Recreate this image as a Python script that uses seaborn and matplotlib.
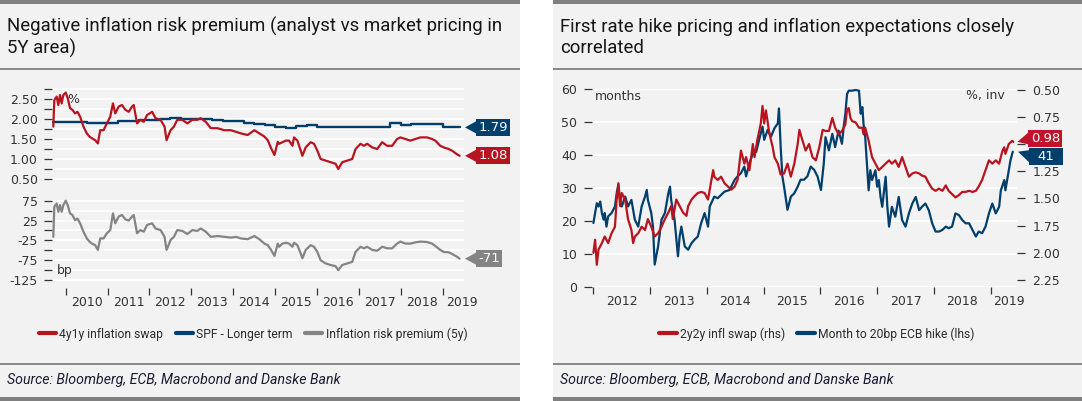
import matplotlib
matplotlib.use("Agg")
import matplotlib.pyplot as plt
import seaborn as sns
import pandas as pd
import numpy as np
from matplotlib.patches import Rectangle, Polygon
from matplotlib.lines import Line2D

# ---------------- data ----------------
# left panel: 4y1y inflation swap (%) and inflation risk premium (bp), same dates
left_dates = [
    2009.704, 2009.728, 2009.784, 2009.824, 2009.864, 2009.904, 2009.944, 2010.000, 2010.048, 2010.104,
    2010.160, 2010.224, 2010.280, 2010.344, 2010.424, 2010.504, 2010.568, 2010.624, 2010.704, 2010.768,
    2010.824, 2010.904, 2010.984, 2011.064, 2011.128, 2011.184, 2011.264, 2011.344, 2011.424, 2011.504,
    2011.584, 2011.624, 2011.704, 2011.784, 2011.864, 2011.944, 2012.064, 2012.144, 2012.264, 2012.360,
    2012.408, 2012.504, 2012.584, 2012.664, 2012.784, 2012.904, 2013.024, 2013.144, 2013.224, 2013.344,
    2013.464, 2013.624, 2013.784, 2013.944, 2014.064, 2014.184, 2014.344, 2014.504, 2014.624, 2014.744,
    2014.824, 2014.904, 2014.984, 2015.064,
    2015.095, 2015.175, 2015.254, 2015.333, 2015.413, 2015.452, 2015.532, 2015.611, 2015.651, 2015.730,
    2015.849, 2015.929, 2016.008, 2016.087, 2016.206, 2016.325, 2016.444, 2016.508, 2016.603, 2016.722,
    2016.841, 2016.921, 2017.040, 2017.119, 2017.198, 2017.317, 2017.437, 2017.556, 2017.675, 2017.794,
    2017.913, 2017.992, 2018.111, 2018.230, 2018.349, 2018.468, 2018.627, 2018.746, 2018.825, 2018.944,
    2019.024, 2019.143, 2019.222, 2019.341, 2019.405]
swap_4y1y = [
    1.81, 2.47, 2.56, 2.35, 2.60, 2.39, 2.60, 2.66, 2.52, 2.27,
    2.23, 2.14, 2.18, 2.06, 1.81, 1.64, 1.56, 1.52, 1.47, 1.39,
    1.72, 1.72, 1.89, 2.06, 2.39, 2.14, 2.31, 2.35, 2.23, 2.18,
    2.31, 2.35, 1.89, 1.98, 1.93, 2.10, 2.18, 2.02, 1.98, 1.81,
    1.47, 1.72, 1.81, 1.98, 1.98, 1.89, 1.98, 1.98, 2.02, 1.93,
    1.77, 1.77, 1.72, 1.72, 1.68, 1.64, 1.60, 1.72, 1.64, 1.56,
    1.47, 1.27, 1.10, 1.43,
    1.38, 1.42, 1.46, 1.46, 1.33, 1.54, 1.46, 1.21, 1.08, 1.29,
    1.42, 1.38, 1.21, 1.00, 0.96, 0.92, 0.88, 0.75, 0.92, 0.96,
    1.00, 1.25, 1.38, 1.33, 1.38, 1.29, 1.25, 1.42, 1.33, 1.33,
    1.50, 1.54, 1.50, 1.46, 1.50, 1.54, 1.54, 1.50, 1.46, 1.33,
    1.29, 1.25, 1.21, 1.12, 1.08]
risk_premium = [
    -16, 60, 68, 47, 64, 47, 64, 75, 64, 43,
    39, 26, 30, 18, -3, -20, -28, -33, -37, -49,
    -20, -20, -7, 1, 43, 18, 35, 39, 28, 25,
    35, 39, -7, 1, -3, 14, 18, 5, 1, -16,
    -49, -24, -16, 1, -1, -9, 1, -1, 5, -3,
    -16, -14, -16, -18, -16, -20, -22, -14, -22, -33,
    -37, -49, -64, -33,
    -41, -33, -31, -33, -41, -31, -37, -58, -70, -49,
    -37, -41, -54, -75, -83, -87, -90, -100, -87, -83,
    -79, -54, -41, -45, -41, -49, -51, -41, -45, -45,
    -33, -28, -33, -33, -30, -28, -29, -33, -39, -49,
    -54, -55, -59, -66, -71]

# SPF longer-term expectations (quarterly steps, %)
spf_dates = [2009.70, 2010.00, 2010.25, 2010.50, 2010.75, 2011.00, 2011.25, 2011.50, 2011.75, 2012.00,
             2012.25, 2012.50, 2012.75, 2013.00, 2013.25, 2013.50, 2013.75, 2014.00, 2014.25, 2014.50,
             2014.75, 2015.00, 2015.25, 2015.50, 2015.75, 2016.00, 2016.25, 2016.50, 2016.75, 2017.00,
             2017.25, 2017.50, 2017.75, 2018.00, 2018.25, 2018.50, 2018.75, 2019.00, 2019.25, 2019.405]
spf_values = [1.93, 1.93, 1.92, 1.91, 1.90, 1.90, 1.95, 1.96, 1.97, 1.98,
              2.00, 2.02, 2.01, 2.00, 1.99, 1.98, 1.96, 1.96, 1.91, 1.88,
              1.85, 1.80, 1.77, 1.83, 1.86, 1.80, 1.80, 1.81, 1.80, 1.80,
              1.81, 1.80, 1.89, 1.86, 1.88, 1.88, 1.87, 1.79, 1.79, 1.79]

# right panel: 2y2y inflation swap (%, inverted rhs)
swap2y2y_dates = [
    2012.00, 2012.03, 2012.06, 2012.09, 2012.15, 2012.20, 2012.26, 2012.32, 2012.38, 2012.41,
    2012.44, 2012.47, 2012.50, 2012.56, 2012.61, 2012.67, 2012.70, 2012.73, 2012.79, 2012.85,
    2012.91, 2012.96, 2013.02, 2013.08, 2013.14, 2013.20, 2013.26, 2013.32, 2013.37, 2013.40,
    2013.46, 2013.52, 2013.58, 2013.64, 2013.67, 2013.73, 2013.78, 2013.84, 2013.90, 2013.96,
    2014.02, 2014.05, 2014.08, 2014.11, 2014.13, 2014.19, 2014.25, 2014.31, 2014.37, 2014.43,
    2014.49, 2014.54, 2014.60, 2014.66, 2014.69, 2014.75, 2014.81, 2014.84, 2014.89, 2014.95,
    2014.98, 2015.01, 2015.04, 2015.10, 2015.16, 2015.19, 2015.25, 2015.30, 2015.36, 2015.42,
    2015.48, 2015.54, 2015.60, 2015.63, 2015.68, 2015.74, 2015.80, 2015.86, 2015.92, 2015.98,
    2016.04, 2016.09, 2016.15, 2016.21, 2016.26, 2016.32, 2016.38, 2016.44, 2016.47, 2016.50,
    2016.53, 2016.56, 2016.62, 2016.68, 2016.74, 2016.76, 2016.79, 2016.85, 2016.91, 2016.97,
    2017.03, 2017.09, 2017.15, 2017.21, 2017.26, 2017.32, 2017.38, 2017.44, 2017.50, 2017.56,
    2017.62, 2017.68, 2017.74, 2017.79, 2017.85, 2017.91, 2017.97, 2018.03, 2018.09, 2018.15,
    2018.21, 2018.26, 2018.32, 2018.38, 2018.44, 2018.50, 2018.56, 2018.62, 2018.68, 2018.74,
    2018.79, 2018.85, 2018.91, 2018.97, 2019.03, 2019.09, 2019.15, 2019.21, 2019.24, 2019.26,
    2019.32, 2019.38, 2019.40]
swap_2y2y = [
    2.00, 1.88, 2.11, 1.97, 1.91, 1.85, 1.91, 1.82, 1.76, 1.51,
    1.36, 1.57, 1.45, 1.51, 1.69, 1.79, 1.91, 1.85, 1.82, 1.76,
    1.79, 1.69, 1.76, 1.85, 1.82, 1.76, 1.69, 1.63, 1.57, 1.69,
    1.51, 1.57, 1.63, 1.66, 1.57, 1.51, 1.48, 1.45, 1.44, 1.45,
    1.51, 1.42, 1.33, 1.24, 1.30, 1.33, 1.30, 1.36, 1.39, 1.42,
    1.39, 1.33, 1.06, 1.18, 1.12, 1.24, 1.00, 1.12, 0.96, 0.81,
    0.65, 0.81, 0.69, 0.90, 1.03, 1.12, 1.18, 1.28, 1.27, 1.18,
    1.30, 1.18, 1.00, 0.87, 0.96, 1.06, 1.00, 1.12, 1.15, 1.03,
    0.87, 0.88, 0.88, 0.76, 0.85, 0.91, 0.88, 0.82, 0.68, 0.67,
    0.76, 0.79, 0.80, 0.85, 0.85, 0.91, 0.85, 0.97, 1.12, 1.18,
    1.24, 1.21, 1.18, 1.15, 1.18, 1.15, 1.21, 1.12, 1.21, 1.30,
    1.27, 1.26, 1.27, 1.29, 1.30, 1.36, 1.41, 1.43, 1.41, 1.43,
    1.38, 1.43, 1.46, 1.49, 1.47, 1.44, 1.44, 1.43, 1.44, 1.43,
    1.39, 1.33, 1.24, 1.15, 1.18, 1.15, 1.18, 1.06, 1.03, 1.09,
    1.00, 0.97, 0.98]

# right panel: months to 20bp ECB hike (lhs)
hike_dates = [
    2012.00, 2012.03, 2012.06, 2012.09, 2012.12, 2012.15, 2012.18, 2012.20, 2012.23, 2012.26,
    2012.32, 2012.38, 2012.41, 2012.44, 2012.47, 2012.50, 2012.56, 2012.61, 2012.67, 2012.73,
    2012.79, 2012.85, 2012.91, 2012.94, 2012.96, 2013.02, 2013.05, 2013.08, 2013.14, 2013.20,
    2013.26, 2013.32, 2013.35, 2013.37, 2013.43, 2013.49, 2013.52, 2013.55, 2013.61, 2013.67,
    2013.73, 2013.78, 2013.84, 2013.90, 2013.96, 2014.02, 2014.05, 2014.13, 2014.19, 2014.25,
    2014.31, 2014.40, 2014.49, 2014.54, 2014.60, 2014.66, 2014.69, 2014.75, 2014.81, 2014.87,
    2014.92, 2014.98, 2015.01, 2015.07, 2015.13, 2015.19, 2015.25, 2015.27, 2015.30, 2015.33,
    2015.36, 2015.42, 2015.48, 2015.54, 2015.60, 2015.65, 2015.71, 2015.77, 2015.83, 2015.89,
    2015.95, 2016.01, 2016.06, 2016.09, 2016.15, 2016.21, 2016.26, 2016.32, 2016.38, 2016.41,
    2016.44, 2016.47, 2016.50, 2016.56, 2016.62, 2016.68, 2016.71, 2016.74, 2016.76, 2016.79,
    2016.82, 2016.85, 2016.88, 2016.91, 2016.97, 2017.00, 2017.03, 2017.06, 2017.09, 2017.15,
    2017.18, 2017.21, 2017.26, 2017.32, 2017.38, 2017.44, 2017.50, 2017.56, 2017.62, 2017.68,
    2017.74, 2017.79, 2017.85, 2017.91, 2017.97, 2018.03, 2018.09, 2018.15, 2018.21, 2018.26,
    2018.32, 2018.38, 2018.44, 2018.50, 2018.56, 2018.62, 2018.68, 2018.74, 2018.79, 2018.85,
    2018.91, 2018.97, 2019.03, 2019.09, 2019.15, 2019.18, 2019.24, 2019.26, 2019.32, 2019.35,
    2019.39]
months_to_hike = [
    19.4, 22.4, 25.4, 24.4, 25.9, 22.4, 20.4, 22.4, 18.3, 21.4,
    22.4, 24.4, 28.4, 31.0, 26.4, 24.4, 27.4, 24.4, 26.4, 20.4,
    18.3, 24.4, 27.4, 29.4, 26.4, 22.4, 18.3, 6.8, 12.3, 20.4,
    22.4, 28.4, 30.4, 26.4, 20.4, 9.3, 15.3, 18.3, 12.3, 11.3,
    13.3, 14.3, 15.3, 19.4, 22.4, 18.3, 24.4, 27.4, 26.9, 27.9,
    28.9, 29.4, 32.5, 33.5, 34.5, 36.5, 33.5, 37.5, 40.5, 41.0,
    44.6, 48.6, 44.6, 47.6, 45.6, 48.1, 49.6, 54.1, 42.5, 33.5,
    30.4, 23.4, 27.4, 28.4, 30.4, 32.5, 32.5, 33.5, 36.5, 35.5,
    33.5, 29.4, 37.5, 45.4, 41.4, 46.4, 42.4, 47.4, 43.4, 48.4,
    52.5, 58.5, 59.5, 59.5, 59.7, 59.5, 52.5, 54.5, 49.4, 45.4,
    37.4, 29.3, 35.4, 32.4, 35.4, 30.4, 32.4, 27.3, 24.3, 33.4,
    24.3, 18.3, 24.3, 21.3, 27.3, 20.3, 18.3, 22.3, 25.3, 27.3,
    23.3, 24.3, 25.3, 23.3, 19.3, 16.8, 16.8, 17.3, 18.3, 17.8,
    18.3, 22.3, 21.8, 20.3, 19.3, 19.3, 17.3, 15.3, 16.8, 16.3,
    18.3, 22.3, 25.3, 22.3, 24.3, 29.3, 32.4, 29.3, 35.4, 38.4,
    41.0]

left_years = list(range(2010, 2020))
right_years = list(range(2012, 2020))

left_title = ["Negative inflation risk premium (analyst vs market pricing in", "5Y area)"]
right_title = ["First rate hike pricing and inflation expectations closely", "correlated"]
left_legend = ["4y1y inflation swap", "SPF - Longer term", "Inflation risk premium (5y)"]
right_legend = ["2y2y infl swap (rhs)", "Month to 20bp ECB hike (lhs)"]
source_text = "Source: Bloomberg, ECB, Macrobond and Danske Bank"

# ---------------- style ----------------
RED = '#b8141f'
BLUE = '#003f6c'
GREY = '#848484'
PANEL = '#f2f2f2'
BAR = '#808080'
TICKC = '#333333'
TXT = ['Roboto', 'DejaVu Sans']

sns.set_theme(style='white')
plt.rcParams['font.family'] = ['DejaVu Sans']

W, H = 1082, 401
fig = plt.figure(figsize=(W / 100, H / 100), dpi=100)
fig.patch.set_facecolor('white')


def add_ax(x0, y0, x1, y1, **kw):
    ax = fig.add_axes([x0 / W, 1 - y1 / H, (x1 - x0) / W, (y1 - y0) / H], **kw)
    ax.set_facecolor('none')
    for s in ax.spines.values():
        s.set_visible(False)
    return ax


def fig_rect(x0, y0, x1, y1, color, z=-5):
    fig.add_artist(Rectangle((x0 / W, 1 - y1 / H), (x1 - x0) / W, (y1 - y0) / H,
                             transform=fig.transFigure, facecolor=color,
                             edgecolor='none', zorder=z))


def ftext(x, y, s, **kw):
    return fig.text(x / W, 1 - y / H, s, **kw)


# panels
for (px0, px1) in [(0, 520), (553, 1082)]:
    fig_rect(px0, 0, px1, 401, PANEL, z=-6)
    fig_rect(px0, 0, px1, 4, BAR, z=-5)
    fig_rect(px0, 397, px1, 401, BAR, z=-5)
    fig_rect(px0, 68.3, px1, 69.6, '#8a8a8a', z=-5)
    fig_rect(px0, 363.4, px1, 364.7, '#8a8a8a', z=-5)


def style_y(ax, ticks, labels, side='left', grid=True):
    ax.set_yticks(ticks, labels=labels)
    left = side == 'left'
    ax.tick_params(axis='y', which='major', length=5.5, width=0.9, color=TICKC,
                   pad=4.8, labelsize=9, labelcolor=TICKC,
                   left=left, labelleft=left, right=not left, labelright=not left)
    if grid:
        ax.yaxis.grid(True, color='white', linewidth=1.3)
        ax.set_axisbelow(True)
    else:
        ax.yaxis.grid(False)
    ax.xaxis.grid(False)


def style_x(ax, years, xmax, last_label_pos):
    ax.set_xticks(years, labels=[''] * len(years))
    mids = [y + 0.5 for y in years[:-1]] + [last_label_pos]
    ax.set_xticks(mids, labels=[str(y) for y in years], minor=True)
    ax.tick_params(axis='x', which='major', length=5, width=0.9, color=TICKC, bottom=True)
    ax.tick_params(axis='x', which='minor', length=0, pad=6, labelsize=9,
                   labelcolor=TICKC, bottom=True)


def tag(ax, xval, yval, text, color, box_w, box_h=17, dy=0.0, tri_w=11, tri_half=6):
    X, Y = ax.transData.transform((xval, yval))
    yc = Y + dy
    bx = X + 1 + tri_w
    fig.add_artist(Polygon([((X + 1) / W, Y / H), (bx / W, (yc + tri_half) / H),
                            (bx / W, (yc - tri_half) / H)], closed=True,
                           transform=fig.transFigure, facecolor=color,
                           edgecolor='none', zorder=5))
    fig.add_artist(Rectangle((bx / W, (yc - box_h / 2) / H), box_w / W, box_h / H,
                             transform=fig.transFigure, facecolor=color,
                             edgecolor='none', zorder=5))
    fig.text((bx + box_w / 2) / W, yc / H, text, color='white', ha='center',
             va='center', fontsize=9.5, zorder=6)


# ---------------- left panel ----------------
L_XMIN, L_XMAX = 2009.68, 2019.51
axLt = add_ax(52.3, 87.5, 464, 183)
axLb = add_ax(52.3, 183, 464, 288, sharex=axLt)

df_left = pd.DataFrame({'date': left_dates, 'swap': swap_4y1y, 'irp': risk_premium})
df_spf = pd.DataFrame({'date': spf_dates, 'spf': spf_values})

sns.lineplot(data=df_spf, x='date', y='spf', ax=axLt, color=BLUE, linewidth=1.7,
             drawstyle='steps-post', estimator=None, sort=False)
sns.lineplot(data=df_left, x='date', y='swap', ax=axLt, color=RED, linewidth=1.6,
             estimator=None, sort=False)
sns.lineplot(data=df_left, x='date', y='irp', ax=axLb, color=GREY, linewidth=1.6,
             estimator=None, sort=False)
for a in (axLt, axLb):
    a.set_xlabel('')
    a.set_ylabel('')

axLt.set_xlim(L_XMIN, L_XMAX)
axLt.set_ylim(0.40, 2.7875)
axLb.set_ylim(-144.9, 119.6)

top_ticks = [0.50 + 0.25 * i for i in range(10)]
top_labels = [f'{v:.2f}' if (i % 2 == 0 and v <= 2.5) else '' for i, v in enumerate(top_ticks)]
style_y(axLt, top_ticks, top_labels)
bot_ticks = [-125 + 25 * i for i in range(9)]
bot_labels = [str(v) if i % 2 == 0 else '' for i, v in enumerate(bot_ticks)]
style_y(axLb, bot_ticks, bot_labels)
axLt.tick_params(axis='x', which='both', bottom=False, labelbottom=False)
style_x(axLb, left_years, L_XMAX, 2019.46)

ftext(67, 99.5, '%', fontsize=9, color=TICKC, ha='left', va='center')
ftext(57, 270.5, 'bp', fontsize=9, color=TICKC, ha='left', va='center')

# ---------------- right panel ----------------
R_XMIN, R_XMAX = 2011.97, 2019.47
axR = add_ax(591.7, 89, 1017.3, 287)
axR2 = axR.twinx()
axR2.set_facecolor('none')
for s in axR2.spines.values():
    s.set_visible(False)

df_hike = pd.DataFrame({'date': hike_dates, 'months': months_to_hike})
df_sw = pd.DataFrame({'date': swap2y2y_dates, 'swap': swap_2y2y})
sns.lineplot(data=df_hike, x='date', y='months', ax=axR, color=BLUE, linewidth=1.6,
             estimator=None, sort=False)
sns.lineplot(data=df_sw, x='date', y='swap', ax=axR2, color=RED, linewidth=1.6,
             estimator=None, sort=False)
for a in (axR, axR2):
    a.set_xlabel('')
    a.set_ylabel('')
axR.set_xlim(R_XMIN, R_XMAX)
axR.set_ylim(0, 60)
axR2.set_ylim(2.314, 0.494)

style_y(axR, list(range(0, 61, 10)), [str(v) for v in range(0, 61, 10)])
r_ticks = [0.50 + 0.25 * i for i in range(8)]
# the 1.00 label is hidden behind the value tags in the reference
r_labels = ['' if abs(v - 1.0) < 1e-9 else f'{v:.2f}' for v in r_ticks]
style_y(axR2, r_ticks, r_labels, side='right', grid=False)
axR2.tick_params(axis='y', pad=5.5)
axR2.tick_params(axis='x', which='both', bottom=False, labelbottom=False)
style_x(axR, right_years, R_XMAX, 2019.33)

ftext(595, 96, 'months', fontsize=9, color=TICKC, ha='left', va='center')
ftext(1005, 95.5, '%, inv', fontsize=9, color=TICKC, ha='right', va='center')

# ---------------- value tags ----------------
tag(axLt, L_XMAX, spf_values[-1], f'{spf_values[-1]:.2f}', BLUE, 34)
tag(axLt, L_XMAX, swap_4y1y[-1], f'{swap_4y1y[-1]:.2f}', RED, 34)
tag(axLb, L_XMAX, risk_premium[-1], f'{risk_premium[-1]:d}', GREY, 26)
tag(axR2, 2019.455, swap_2y2y[-1], f'{swap_2y2y[-1]:.2f}', '#c0132a', 34, dy=3.5)
tag(axR, 2019.465, months_to_hike[-1], f'{months_to_hike[-1]:.0f}', BLUE, 34, dy=-4.5)

# ---------------- titles, legends, sources ----------------
t1 = ftext(7, 31.7, left_title[0], fontsize=11, color='#161616', family=TXT, va='baseline')
fig.canvas.draw()
rend = fig.canvas.get_renderer()
w = t1.get_window_extent(rend).width
title_fs = 11 * 494 / w
t1.set_fontsize(title_fs)
ftext(7, 53.3, left_title[1], fontsize=title_fs, color='#161616', family=TXT, va='baseline')
ftext(560, 31.7, right_title[0], fontsize=title_fs, color='#161616', family=TXT, va='baseline')
ftext(560, 53.3, right_title[1], fontsize=title_fs, color='#161616', family=TXT, va='baseline')


def make_legend(labels, colors, cx, fs):
    handles = [Line2D([0], [0], color=c, linewidth=3) for c in colors]
    return fig.legend(handles, labels, loc='center', bbox_to_anchor=(cx / W, 1 - 334 / H),
                      ncol=len(labels), frameon=False, fontsize=fs, handlelength=1.45,
                      handletextpad=0.25, columnspacing=1.0, borderaxespad=0,
                      prop={'family': TXT, 'size': fs}, labelcolor='#2b2b2b')


leg = make_legend(left_legend, [RED, BLUE, GREY], 253, 9)
fig.canvas.draw()
lw = leg.get_window_extent(fig.canvas.get_renderer()).width
leg_fs = 9 * 441 / lw
leg.remove()
make_legend(left_legend, [RED, BLUE, GREY], 253, leg_fs)
make_legend(right_legend, [RED, BLUE], 817, leg_fs)

s1 = ftext(7, 380, source_text, fontsize=9, color='#1b1b33', family=TXT,
           style='italic', va='center')
fig.canvas.draw()
sw = s1.get_window_extent(fig.canvas.get_renderer()).width
src_fs = 9 * 333 / sw
s1.set_fontsize(src_fs)
ftext(560, 380, source_text, fontsize=src_fs, color='#1b1b33', family=TXT,
      style='italic', va='center')

fig.savefig('out.png', dpi=100, facecolor='white')
